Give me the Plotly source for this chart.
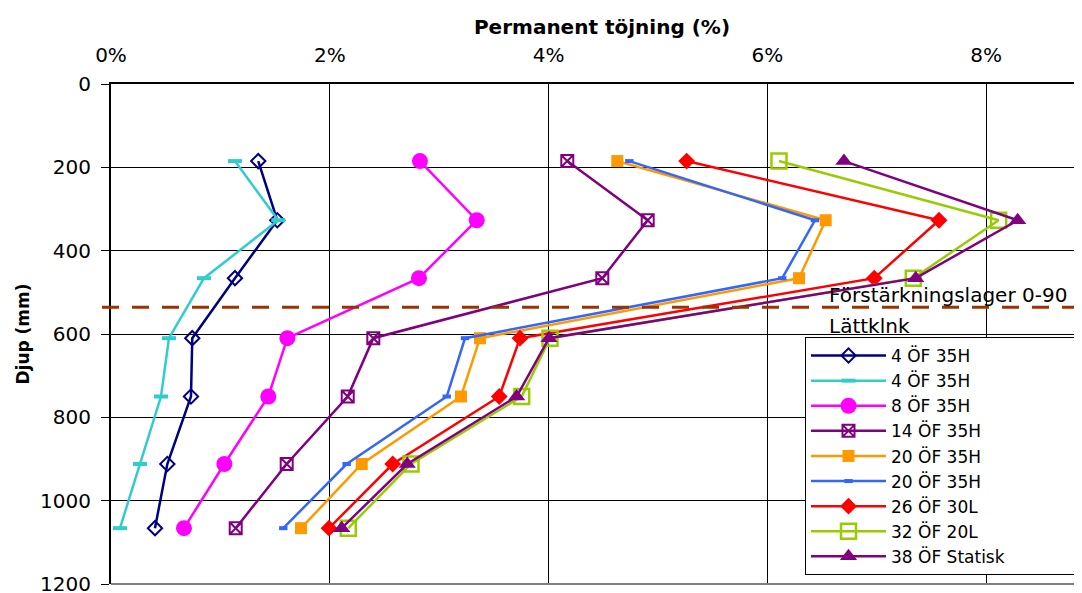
import plotly.graph_objects as go

# Depths (mm) of the measurement points
depth = [185, 327, 466, 610, 750, 912, 1066]

# Permanent strain (%) per series
names = ["4 ÖF 35H", "4 ÖF 35H", "8 ÖF 35H", "14 ÖF 35H", "20 ÖF 35H",
         "20 ÖF 35H", "26 ÖF 30L", "32 ÖF 20L", "38 ÖF Statisk"]
s4a = [1.346, 1.520, 1.133, 0.743, 0.731, 0.515, 0.402]
s4b = [1.133, 1.529, 0.850, 0.530, 0.457, 0.265, 0.082]
s8 = [2.824, 3.343, 2.815, 1.612, 1.438, 1.036, 0.667]
s14 = [4.171, 4.906, 4.491, 2.398, 2.164, 1.606, 1.140]
s20a = [4.628, 6.533, 6.289, 3.373, 3.199, 2.292, 1.737]
s20b = [4.738, 6.435, 6.136, 3.236, 3.069, 2.154, 1.575]
s26 = [5.262, 7.569, 6.977, 3.739, 3.549, 2.575, 1.993]
s32 = [6.106, 8.114, 7.334, 4.013, 3.754, 2.742, 2.169]
s38 = [6.700, 8.288, 7.356, 4.004, 3.708, 2.708, 2.109]
series = [s4a, s4b, s8, s14, s20a, s20b, s26, s32, s38]

x_ticks = [0, 2, 4, 6, 8]
x_ticktext = ["0%", "2%", "4%", "6%", "8%"]
y_ticks = [0, 200, 400, 600, 800, 1000, 1200]
layer_boundary = 536  # mm
layer_labels = ["Förstärkningslager 0-90", "Lättklnk"]

styles = [
    dict(color="#000080", symbol="diamond-open", size=11, mlw=2),
    dict(color="#33CCCC", symbol="line-ew", size=10, mlw=4),
    dict(color="#FF00FF", symbol="circle", size=16, mlw=0),
    dict(color="#800080", symbol="square-x-open", size=12, mlw=2),
    dict(color="#FF9900", symbol="square", size=12, mlw=0),
    dict(color="#3366FF", symbol="line-ew", size=6, mlw=4),
    dict(color="#FF0000", symbol="diamond", size=13, mlw=0),
    dict(color="#99CC00", symbol="square-open", size=15, mlw=2.5),
    dict(color="#800080", symbol="triangle-up", size=15, mlw=0),
]

FONT = "DejaVu Sans"
OFF = 8            # page body margin in the browser
W, H = 1082 - OFF, 593 - OFF
ML, MT = 111 - OFF, 84 - OFF
MB = 593 - 584
PW = W - ML
PH = H - MT - MB
PAD = "\u00a0" * 12  # widen legend box towards the right edge, as in the reference

fig = go.Figure()
for name, vals, st in zip(names, series, styles):
    fig.add_trace(go.Scatter(
        x=vals, y=depth, name=name + PAD, mode="lines+markers",
        line=dict(color=st["color"], width=2.5),
        marker=dict(symbol=st["symbol"], size=st["size"], color=st["color"],
                    line=dict(color=st["color"], width=st["mlw"])),
    ))

fig.update_layout(
    width=W, height=H,
    margin=dict(l=ML, r=0, t=MT, b=MB, autoexpand=False),
    paper_bgcolor="white", plot_bgcolor="white",
    font=dict(family=FONT, color="black"),
    title=dict(text="<b>Permanent töjning (%)</b>", x=(602 - OFF) / W, xanchor="center",
               xref="container", y=1 - (27 - OFF) / H, yanchor="middle",
               font=dict(family=FONT, size=20, color="black")),
    showlegend=True,
    legend=dict(x=(805 - 111) / PW, xanchor="left", y=(584 - 575) / PH, yanchor="bottom",
                bgcolor="white", bordercolor="black", borderwidth=1,
                font=dict(family=FONT, size=17, color="black"),
                itemwidth=75, tracegroupgap=0),
)

fig.update_xaxes(
    side="top", range=[0, 8.876], tickvals=x_ticks, ticktext=x_ticktext,
    showgrid=True, gridcolor="black", gridwidth=1,
    showline=True, linecolor="black", linewidth=2,
    ticks="", tickfont=dict(family=FONT, size=20, color="black"),
    ticklabelstandoff=12, zeroline=False, automargin=False,
)
fig.update_yaxes(
    range=[1200, 0], tickvals=y_ticks,
    showgrid=True, gridcolor="black", gridwidth=1,
    showline=True, linecolor="black", linewidth=2,
    ticks="outside", ticklen=8, tickcolor="black", tickwidth=1,
    tickfont=dict(family=FONT, size=20, color="black"),
    ticklabelstandoff=6, zeroline=False, automargin=False,
    ticklabeloverflow="allow",
    title=dict(text="<b>Djup (mm)</b>", font=dict(family=FONT, size=17, color="black"),
               standoff=6),
)

# bottom border of plot area (gray)
fig.add_shape(type="line", xref="paper", yref="paper", x0=0, x1=1, y0=0, y1=0,
              line=dict(color="#808080", width=2))
# layer boundary dashed line
fig.add_shape(type="line", xref="paper", yref="y", x0=-9 / PW, x1=1,
              y0=layer_boundary, y1=layer_boundary,
              line=dict(color="#993300", width=3, dash="17px,13px"))

fig.add_annotation(x=6.545, y=506, xref="x", yref="y", text=layer_labels[0],
                   showarrow=False, xanchor="left", yanchor="middle",
                   font=dict(family=FONT, size=20, color="black"))
fig.add_annotation(x=6.545, y=581, xref="x", yref="y", text=layer_labels[1],
                   showarrow=False, xanchor="left", yanchor="middle",
                   font=dict(family=FONT, size=20, color="black"))

fig.write_html("out.html", config={"displayModeBar": False})
